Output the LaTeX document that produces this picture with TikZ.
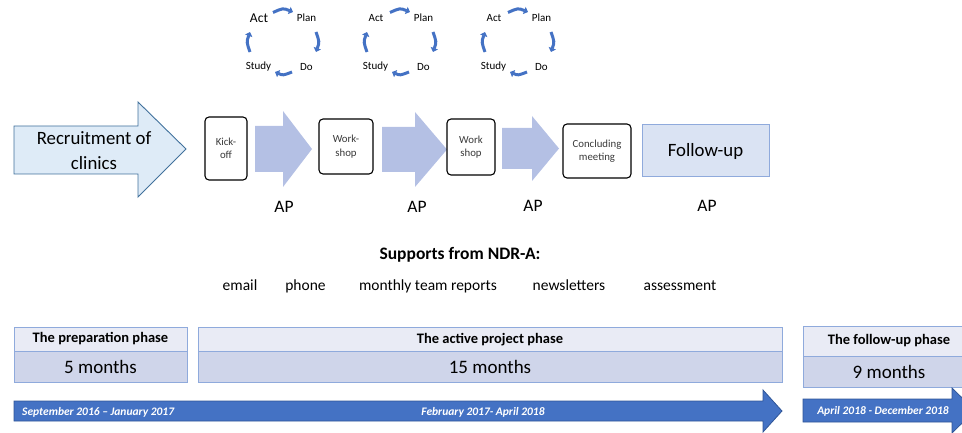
\documentclass[tikz,border=0pt]{standalone}
\usepackage{fontspec}
\setmainfont{Carlito}
\usetikzlibrary{arrows.meta}

\definecolor{recfill}{HTML}{DEEBF7}
\definecolor{recline}{HTML}{41719C}
\definecolor{stepfill}{HTML}{B4C0E4}
\definecolor{cyclecol}{HTML}{4472C4}
\definecolor{fupfill}{HTML}{DAE3F3}
\definecolor{fupline}{HTML}{8FAADC}
\definecolor{headfill}{HTML}{E9EBF5}
\definecolor{monthfill}{HTML}{CFD5EA}
\definecolor{phaseline}{HTML}{8FAADC}
\definecolor{timefill}{HTML}{4472C4}
\definecolor{timeline}{HTML}{2F5597}
\definecolor{boxtext}{HTML}{3A3A3A}

\newcommand{\fsz}[2]{\fontsize{#1}{#2}\selectfont}

\begin{document}
\begin{tikzpicture}[x=1pt,y=-1pt,
        stepbox/.style={draw, line width=1.1pt, rounded corners=4pt, fill=white,
          align=center, text=boxtext, font=\fsz{10.8}{13.5}, inner sep=0pt},
        aplabel/.style={font=\fsz{17.5}{20}},
        pdca/.style={font=\fsz{11}{12}, inner sep=0pt},
        cyc/.style={cyclecol, line width=3pt, -{Triangle[length=4pt,width=7.5pt]}},
        phasehead/.style={draw=phaseline, fill=headfill, line width=0.8pt,
          font=\bfseries\fsz{14.5}{16}, inner sep=0pt},
        phasemonths/.style={draw=phaseline, fill=monthfill, line width=0.8pt,
          font=\fsz{19}{21}, inner sep=0pt},
        datelabel/.style={text=white, font=\bfseries\itshape\fsz{11.5}{12}, inner sep=0pt},
        support/.style={font=\fsz{15.5}{18}, anchor=base}]
        \useasboundingbox (0,0) rectangle (962,433);
        \clip (0,0) rectangle (962,433);

        % plan-do-study-act cycles
        \foreach \cx/\n/\actsize in {283/1/13.5, 400/2/11, 518/3/11} {
          \node[pdca, font=\fsz{\actsize}{14}] (act\n) at (\cx-24,18) {Act};
          \node[pdca] (plan\n) at (\cx+23.5,18) {Plan};
          \node[pdca] (study\n) at (\cx-24.5,67) {Study};
          \node[pdca] (do\n) at (\cx+23.5,67) {Do};
          \draw[cyc] (\cx-10,12.5) .. controls (\cx,8) .. (\cx+10,12);
          \draw[cyc] (\cx+33,32) .. controls (\cx+36.5,42) .. (\cx+33,52);
          \draw[cyc] (\cx+9,72) .. controls (\cx,75.5) .. (\cx-8,72);
          \draw[cyc] (\cx-33,52) .. controls (\cx-36.5,42) .. (\cx-33,32);
        }

        % recruitment arrow
        \filldraw[fill=recfill, draw=recline, line width=0.9pt]
        (14,126) -- (138,126) -- (138,102) -- (186,149) -- (138,197)
        -- (138,174) -- (14,174) -- cycle;
        \node[font=\fsz{18.8}{25}, align=center] (recruit) at (94,150.5)
        {Recruitment of\\clinics};

        % block arrows between the meetings
        \fill[stepfill] (255,126) -- (283,126) -- (283,111) -- (312,149)
        -- (283,187) -- (283,172) -- (255,172) -- cycle;
        \fill[stepfill] (382,127) -- (415,127) -- (415,112) -- (447,149.5)
        -- (415,187) -- (415,172) -- (382,172) -- cycle;
        \fill[stepfill] (502,128) -- (532,128) -- (532,116) -- (559,148.5)
        -- (532,181) -- (532,169) -- (502,169) -- cycle;

        % meetings
        \node[stepbox, minimum width=42pt, minimum height=63pt] (kickoff)
        at (226,148.5) {Kick-\\off};
        \node[stepbox, minimum width=54pt, minimum height=55pt] (workshopA)
        at (346,146.5) {Work-\\shop};
        \node[stepbox, minimum width=48pt, minimum height=56pt] (workshopB)
        at (471,147) {Work\\shop};
        \node[stepbox, minimum width=68pt, minimum height=54pt] (concluding)
        at (597,151) {Concluding\\meeting};
        \node[draw=fupline, fill=fupfill, line width=1pt, minimum width=127pt,
          minimum height=52pt, font=\fsz{18.8}{22}] (followup)
        at (705.5,151) {Follow-up};

        \node[aplabel] (apA) at (284,207) {AP};
        \node[aplabel] (apB) at (417,207) {AP};
        \node[aplabel] (apC) at (533,206) {AP};
        \node[aplabel] (apD) at (707,206) {AP};

        % supports
        \node[font=\bfseries\fsz{17.5}{19}] (supports) at (460,255) {Supports from NDR-A:};
        \node[support] (email) at (240,290.5) {email};
        \node[support] (phone) at (305.5,290.5) {phone};
        \node[support] (reports) at (428,290.5) {monthly team reports};
        \node[support] (news) at (569,290.5) {newsletters};
        \node[support] (assess) at (680,290.5) {assessment};

        % phases
        \node[phasehead, minimum width=173pt, minimum height=24pt] (prephead)
        at (100.5,339) {The preparation phase};
        \node[phasemonths, minimum width=173pt, minimum height=31pt] (prepmonths)
        at (100.5,366.5) {5 months};
        \node[phasehead, minimum width=584pt, minimum height=24.5pt] (acthead)
        at (490,339.25) {The active project phase};
        \node[phasemonths, minimum width=584pt, minimum height=30.5pt] (actmonths)
        at (490,366.75) {15 months};
        \node[phasehead, minimum width=172pt, minimum height=30pt] (fuphead)
        at (889,341) {The follow-up phase};
        \node[phasemonths, minimum width=172pt, minimum height=31pt] (fupmonths)
        at (889,371.5) {9 months};

        % time line
        \filldraw[fill=timefill, draw=timeline, line width=0.8pt]
        (14,401) -- (763,401) -- (763,390) -- (782,411) -- (763,432)
        -- (763,421) -- (14,421) -- cycle;
        \filldraw[fill=timefill, draw=timeline, line width=0.8pt]
        (803,399) -- (952,399) -- (952,388) -- (975,410.5) -- (952,433)
        -- (952,422) -- (803,422) -- cycle;
        \node[datelabel, anchor=west] (dateA) at (22,412) {September 2016 -- January 2017};
        \node[datelabel] (dateB) at (483,412) {February 2017- April 2018};
        \node[datelabel] (dateC) at (883,411) {April 2018 - December 2018};
    \end{tikzpicture}
\end{document}
